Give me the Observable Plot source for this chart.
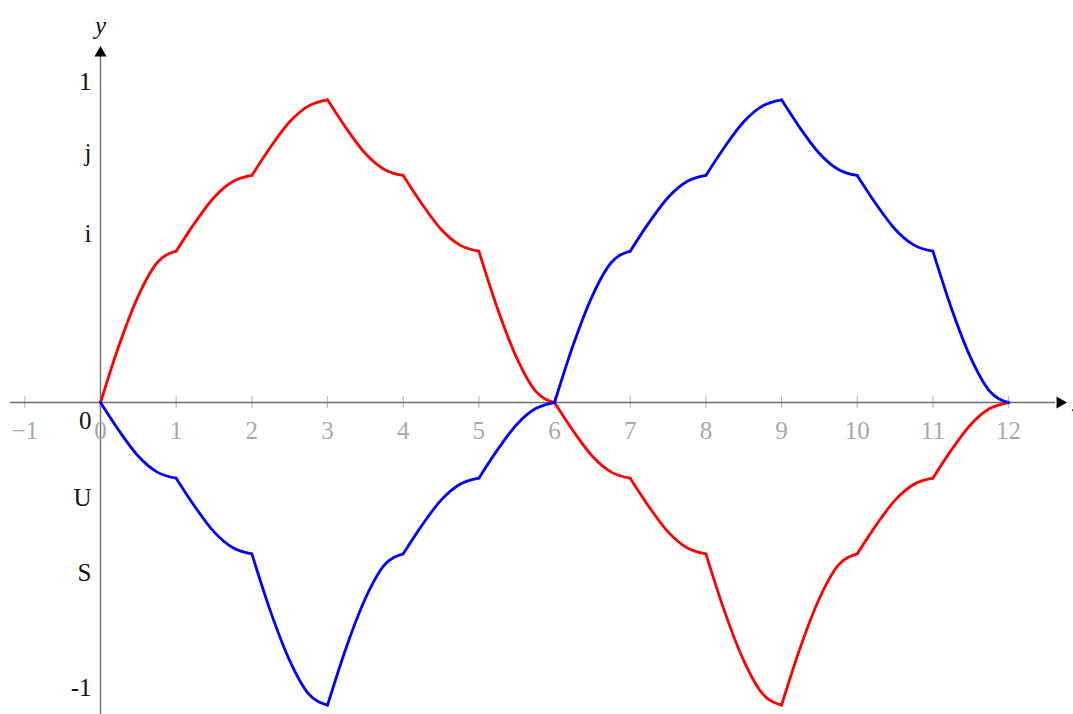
<!DOCTYPE html>
<html>
<head>
<meta charset="utf-8">
<script src="https://cdn.jsdelivr.net/npm/d3@7"></script>
<script src="https://cdn.jsdelivr.net/npm/@observablehq/plot@0.6"></script>
<style>
  html, body { margin: 0; padding: 0; background: #fff; overflow: hidden; }
  svg { display: block; }
</style>
</head>
<body>
<div id="chart"></div>
<script>
// sample positions (quarter steps)
const xs = [0,0.25,0.5,0.75,1,1.25,1.5,1.75,2,2.25,2.5,2.75,3,3.25,3.5,3.75,4,4.25,4.5,4.75,5,5.25,5.5,5.75,6,
            6.25,6.5,6.75,7,7.25,7.5,7.75,8,8.25,8.5,8.75,9,9.25,9.5,9.75,10,10.25,10.5,10.75,11,11.25,11.5,11.75,12];
const redY = [0,0.77,1.41,1.85,2,2.38,2.71,2.92,3,3.38,3.71,3.92,4,3.62,3.29,3.08,3,2.62,2.29,2.08,2,1.23,0.59,0.15,0,
              -0.38,-0.71,-0.92,-1,-1.38,-1.71,-1.92,-2,-2.77,-3.41,-3.85,-4,-3.23,-2.59,-2.15,-2,-1.62,-1.29,-1.08,-1,-0.62,-0.29,-0.08,0];
const blueY = [0,-0.38,-0.71,-0.92,-1,-1.38,-1.71,-1.92,-2,-2.77,-3.41,-3.85,-4,-3.23,-2.59,-2.15,-2,-1.62,-1.29,-1.08,-1,-0.62,-0.29,-0.08,0,
               0.77,1.41,1.85,2,2.38,2.71,2.92,3,3.38,3.71,3.92,4,3.62,3.29,3.08,3,2.62,2.29,2.08,2,1.23,0.59,0.15,0];
const xTicks = [-1,0,1,2,3,4,5,6,7,8,9,10,11,12];
const yTickLabels = ["1","j","i","0","U","S","-1"];
const yTickPos = [4.23,3.30,2.23,-0.24,-1.26,-2.25,-3.77];

// build segment-wise rows so kinks at integers are kept
function rows(ys, name) {
  const out = [];
  for (let k = 0; k < 12; k++) {
    for (let i = 4 * k; i <= 4 * k + 4; i++) out.push({x: xs[i], y: ys[i], z: name + k});
  }
  return out;
}
const red = rows(redY, "r");
const blue = rows(blueY, "b");

const font = "'Liberation Serif', 'DejaVu Serif', serif";
const axisColor = "#6e6e6e";

const chart = Plot.plot({
  width: 1073,
  height: 714,
  margin: 0,
  x: {domain: [-1.3215, 12.858], axis: null},
  y: {domain: [-4.123, 5.3125], axis: null},
  style: {fontFamily: font, background: "#fff"},
  marks: [
    Plot.ruleX(xTicks, {x: d => d, y1: -0.08, y2: 0.08, stroke: "#bdbdbd", strokeWidth: 1.2}),
    Plot.ruleY([0], {x1: -1.19, x2: 12.62, stroke: axisColor, strokeWidth: 1.4}),
    Plot.ruleX([0], {y1: -4.2, y2: 4.6, stroke: axisColor, strokeWidth: 1.4}),
    Plot.dot([12.68], {x: d => d, y: 0, symbol: "triangle", rotate: 90, r: 4.5, fill: "black", stroke: null}),
    Plot.dot([4.62], {x: 0, y: d => d, symbol: "triangle", r: 4.5, fill: "black", stroke: null}),
    Plot.text(xTicks, {x: d => d, y: 0, dy: 28, text: d => d < 0 ? "\u2212" + Math.abs(d) : String(d),
      fill: "#a8a8a8", fontSize: 25, fontFamily: font}),
    Plot.text(yTickLabels, {x: 0, y: (d, i) => yTickPos[i], dx: -9, textAnchor: "end", text: d => d,
      fill: "#111", fontSize: 25, fontFamily: font}),
    Plot.text(["x"], {x: 12.84, y: 0, textAnchor: "start", text: d => d, fontStyle: "italic", fill: "#111", fontSize: 25, fontFamily: font}),
    Plot.text(["y"], {x: 0, y: 4.98, text: d => d, fontStyle: "italic", fill: "#111", fontSize: 25, fontFamily: font}),
    Plot.line(red, {x: "x", y: "y", z: "z", curve: "monotone-x", stroke: "#ff0000", strokeWidth: 2.8}),
    Plot.line(blue, {x: "x", y: "y", z: "z", curve: "monotone-x", stroke: "#0000ff", strokeWidth: 2.8})
  ]
});
document.getElementById("chart").append(chart);
</script>
</body>
</html>
